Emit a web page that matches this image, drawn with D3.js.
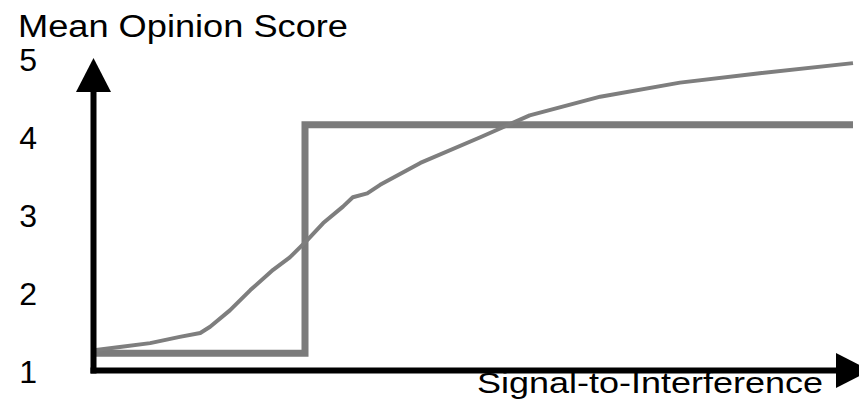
<!DOCTYPE html>
<html>
<head>
<meta charset="utf-8">
<script src="https://cdn.jsdelivr.net/npm/d3@7"></script>
<style>
  html, body { margin: 0; padding: 0; background: #fff; }
  svg { display: block; }
</style>
</head>
<body>
<div id="chart"></div>
<script>
// signal-to-interference (arbitrary units 0..100) vs mean opinion score
const sirValues = [0, 3.4, 7.4, 11.3, 14.0, 15.3, 17.9, 20.6, 23.6, 25.8, 28.1, 30.2, 32.8, 34.1, 36.0, 37.7, 43.0, 50.9, 57.4, 66.7, 77.2, 87.7, 100];
const mosValues = [1.28, 1.32, 1.37, 1.45, 1.50, 1.58, 1.79, 2.05, 2.31, 2.47, 2.69, 2.91, 3.12, 3.24, 3.29, 3.40, 3.68, 4.01, 4.29, 4.53, 4.71, 4.83, 4.96];

// step (threshold) model
const stepSir = [0, 27.8, 27.8, 100];
const stepMos = [1.24, 1.24, 4.17, 4.17];

const yTicks = [1, 2, 3, 4, 5];
const yTitle = "Mean Opinion Score";
const xTitle = "Signal-to-Interference";

const width = 859, height = 418;
const margin = {top: 60, right: 5, bottom: 46, left: 94};

const svg = d3.select("#chart")
    .append("svg")
    .attr("width", width)
    .attr("height", height)
    .style("font-family", "'Liberation Sans', Arial, sans-serif");

svg.append("rect").attr("width", width).attr("height", height).attr("fill", "#fff");

const x = d3.scaleLinear()
    .domain([0, 100])
    .range([margin.left, width - margin.right - 1]);

const y = d3.scaleLinear()
    .domain([1, 5])
    .range([height - margin.bottom, margin.top]);

// tick labels, set well left of the axis line
const yAxis = svg.append("g")
    .attr("transform", `translate(${margin.left},0)`)
    .call(d3.axisLeft(y).tickValues(yTicks).tickSize(0).tickPadding(57).tickFormat(d3.format("d")));
yAxis.select(".domain").remove();
yAxis.selectAll("text")
    .style("font-size", "32px")
    .style("font-family", "'Liberation Sans', Arial, sans-serif")
    .attr("fill", "#000");

const line = d3.line()
    .x(d => x(d[0]))
    .y(d => y(d[1]));

// step
svg.append("path")
    .datum(stepSir.map((s, i) => [s, stepMos[i]]))
    .attr("d", line)
    .attr("fill", "none")
    .attr("stroke", "#7b7b7b")
    .attr("stroke-width", 7);

// curve
svg.append("path")
    .datum(sirValues.map((s, i) => [s, mosValues[i]]))
    .attr("d", line)
    .attr("fill", "none")
    .attr("stroke", "#7e7e7e")
    .attr("stroke-width", 4)
    .attr("stroke-linejoin", "round");

// axis lines with arrow heads
const x0 = x(0) - 0.5, y0 = y(1) - 1.5;
const yTip = y(5) - 2, xTip = x(100) + 17;
const head = 34, half = 17.5;

svg.append("line")
    .attr("x1", x0).attr("x2", x0)
    .attr("y1", y0 + 3).attr("y2", yTip + head)
    .attr("stroke", "#000").attr("stroke-width", 6);
svg.append("path")
    .attr("d", `M${x0},${yTip}L${x0 + half},${yTip + head}L${x0 - half},${yTip + head}Z`)
    .attr("fill", "#000");

svg.append("line")
    .attr("x1", x0 - 3).attr("x2", xTip - head)
    .attr("y1", y0).attr("y2", y0)
    .attr("stroke", "#000").attr("stroke-width", 6);
svg.append("path")
    .attr("d", `M${xTip},${y0}L${xTip - head},${y0 - half}L${xTip - head},${y0 + half}Z`)
    .attr("fill", "#000");

// titles
svg.append("text")
    .attr("x", 18)
    .attr("y", 37)
    .attr("textLength", 330)
    .attr("lengthAdjust", "spacingAndGlyphs")
    .style("font-size", "31px")
    .attr("fill", "#000")
    .text(yTitle);

svg.append("text")
    .attr("x", 477)
    .attr("y", 393)
    .attr("textLength", 346)
    .attr("lengthAdjust", "spacingAndGlyphs")
    .style("font-size", "30px")
    .attr("fill", "#000")
    .text(xTitle);
</script>
</body>
</html>
